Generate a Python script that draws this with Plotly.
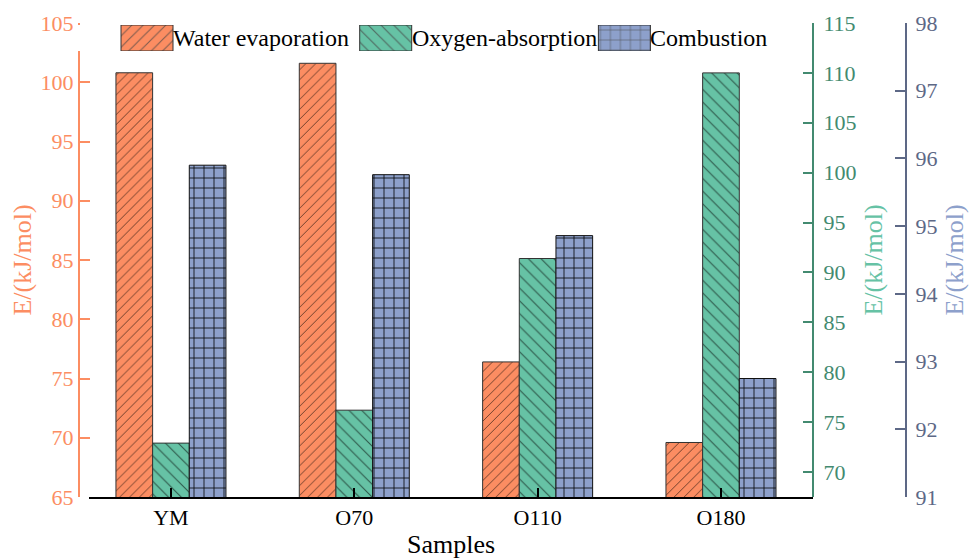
import plotly.graph_objects as go

# ---------------- data ----------------
samples = ["YM", "O70", "O110", "O180"]
series_names = ["Water evaporation", "Oxygen-absorption", "Combustion"]
water_evaporation = [100.8, 101.6, 76.4, 69.6]      # left axis
oxygen_absorption = [72.9, 76.2, 91.4, 110.0]       # right axis 1
combustion = [95.9, 95.76, 94.86, 92.75]            # right axis 2
left_ticks = [65, 70, 75, 80, 85, 90, 95, 100, 105]
green_ticks = [70, 75, 80, 85, 90, 95, 100, 105, 110, 115]
blue_ticks = [91, 92, 93, 94, 95, 96, 97, 98]

# ---------------- style ----------------
W, H = 969, 559
ML, MR, MT, MB = 50, 40, 23, 62
PW = W - ML - MR
PH = H - MT - MB
FONT = "Liberation Serif"
TICK = 22

ORANGE = "#fc8d62"
GREEN = "#66c2a5"
GREEN_DARK = "#438a70"
BLUE = "#8da0cb"
BLUE_DARK = "#5d6886"
EDGE = "#333333"

colors = [ORANGE, GREEN, BLUE]
patterns = [
    dict(shape="/", fgcolor="#000000", fgopacity=0.6, size=7, solidity=0.13),
    dict(shape="\\", fgcolor="#000000", fgopacity=0.55, size=9, solidity=0.12),
    dict(shape="+", fgcolor="#000000", fgopacity=0.95, size=10, solidity=0.16),
]
edges = [EDGE, EDGE, "#111111"]


def fx(px):
    return (px - ML) / PW


def fy(py):
    return (H - MB - py) / PH


fig = go.Figure()
values = [water_evaporation, oxygen_absorption, combustion]
axes = ["y", "y2", "y3"]
offsets = [-0.3, -0.1, 0.1]
for name, vals, ax, off, col, pat, ed in zip(series_names, values, axes, offsets, colors, patterns, edges):
    fig.add_bar(
        x=samples, y=vals, name=name, yaxis=ax, xaxis="x",
        width=0.2, offset=off, showlegend=False,
        marker=dict(color=col, line=dict(color=ed, width=1), pattern=pat),
    )

# ---- custom legend: large patterned swatches on their own small axis ----
LEG_C0, LEG_STEP, LEG_W = 147, 238.7, 52
leg_a = 0.3
leg_dom = [fx(LEG_C0 - leg_a * LEG_STEP), fx(LEG_C0 + (2 + leg_a) * LEG_STEP)]
sw_frac = LEG_W / LEG_STEP
fig.add_bar(
    x=series_names, y=[1] * len(series_names), xaxis="x2", yaxis="y4",
    width=sw_frac, showlegend=False, hoverinfo="skip",
    marker=dict(color=colors, line=dict(color=EDGE, width=1),
                pattern=dict(shape=[p["shape"] for p in patterns], fgcolor="#000000",
                             fgopacity=0.7, size=[8, 9, 10], solidity=0.13)),
)
for i, name in enumerate(series_names):
    fig.add_annotation(
        x=i + sw_frac / 2, y=0.5, xref="x2", yref="y4", text=name,
        showarrow=False, xanchor="left", yanchor="middle", xshift=-2,
        font=dict(family=FONT, size=24, color="black"),
    )

fig.update_layout(
    width=W, height=H,
    margin=dict(l=ML, r=MR, t=MT, b=MB),
    paper_bgcolor="white", plot_bgcolor="white",
    font=dict(family=FONT, size=TICK, color="black"),
    showlegend=False,
    xaxis=dict(
        type="category", domain=[fx(89), fx(813)], range=[-0.447, 3.502],
        showline=True, linecolor="black", linewidth=2,
        ticks="inside", ticklen=9, tickwidth=2, tickcolor="black",
        tickfont=dict(family=FONT, size=TICK, color="black"),
        title=dict(text="Samples", font=dict(family=FONT, size=26, color="black"), standoff=6),
        showgrid=False, zeroline=False, automargin=False, anchor="y",
    ),
    xaxis2=dict(
        type="category", domain=leg_dom, range=[-leg_a, 2 + leg_a], anchor="y4",
        visible=False, fixedrange=True,
    ),
    yaxis4=dict(
        domain=[fy(51), fy(25)], range=[0, 1], anchor="x2", visible=False, fixedrange=True,
    ),
    yaxis=dict(
        range=[65, 105], tickvals=left_ticks, anchor="free", position=fx(79),
        domain=[0, 1],
        showline=True, linecolor=ORANGE, linewidth=2,
        ticks="inside", ticklen=10, tickwidth=2, tickcolor=ORANGE,
        tickfont=dict(family=FONT, size=TICK, color=ORANGE),
        title=dict(text="E/(kJ/mol)", font=dict(family=FONT, size=26, color=ORANGE), standoff=0),
        showgrid=False, zeroline=False, automargin=False,
    ),
    yaxis2=dict(
        range=[67.5, 115], tickvals=green_ticks, overlaying="y", side="right",
        anchor="free", position=fx(813),
        showline=True, linecolor=GREEN_DARK, linewidth=2,
        ticks="inside", ticklen=9, tickwidth=2, tickcolor=GREEN_DARK,
        tickfont=dict(family=FONT, size=TICK, color=GREEN_DARK), ticklabelstandoff=5,
        title=dict(text="E/(kJ/mol)", font=dict(family=FONT, size=26, color=GREEN), standoff=7),
        showgrid=False, zeroline=False, automargin=False,
    ),
    yaxis3=dict(
        range=[91, 98], tickvals=blue_ticks, overlaying="y", side="right",
        anchor="free", position=fx(906),
        showline=True, linecolor=BLUE_DARK, linewidth=2,
        ticks="inside", ticklen=10, tickwidth=2, tickcolor=BLUE_DARK,
        tickfont=dict(family=FONT, size=TICK, color=BLUE_DARK), ticklabelstandoff=4,
        title=dict(text="E/(kJ/mol)", font=dict(family=FONT, size=26, color=BLUE), standoff=10),
        showgrid=False, zeroline=False, automargin=False,
    ),
)

fig.write_html("out.html")
